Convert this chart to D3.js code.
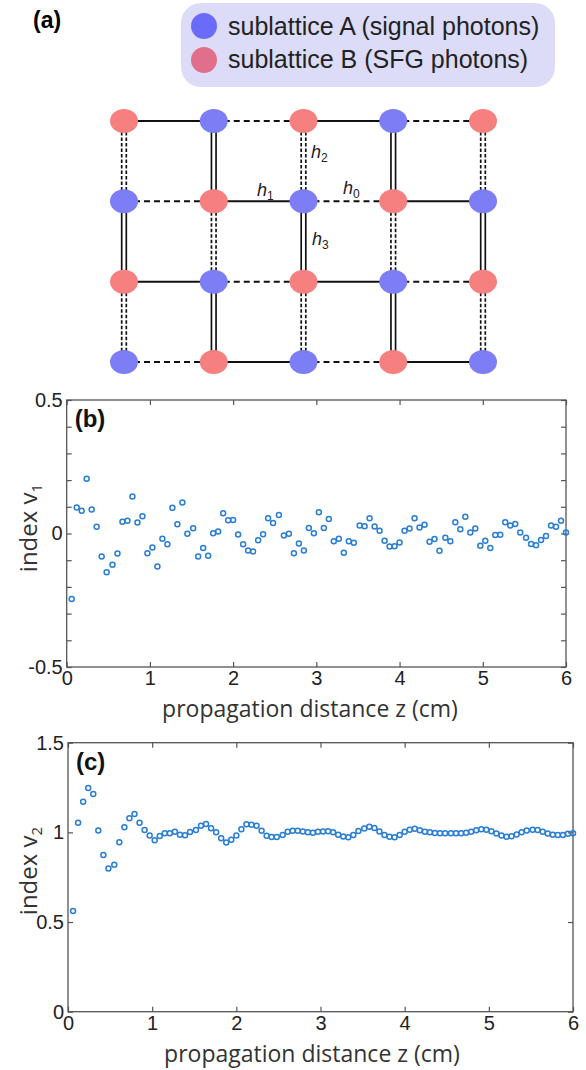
<!DOCTYPE html>
<html>
<head>
<meta charset="utf-8">
<script src="https://cdn.jsdelivr.net/npm/d3@7"></script>
<style>
  body { margin: 0; background: #fff; }
  svg { display: block; }
</style>
</head>
<body>
<svg id="fig" width="586" height="1070"></svg>
<script>
// propagation distance z (cm) of each sample
var zGrid = [0.06,0.12,0.18,0.24,0.30,0.36,0.42,0.48,0.55,0.61,0.67,0.73,0.79,0.85,0.91,0.97,
  1.03,1.09,1.15,1.21,1.27,1.33,1.39,1.45,1.52,1.58,1.64,1.70,1.76,1.82,1.88,1.94,
  2.00,2.06,2.12,2.18,2.24,2.30,2.36,2.42,2.48,2.55,2.61,2.67,2.73,2.79,2.85,2.91,2.97,
  3.03,3.09,3.15,3.21,3.27,3.33,3.39,3.45,3.52,3.58,3.64,3.70,3.76,3.82,3.88,3.94,
  4.00,4.06,4.12,4.18,4.24,4.30,4.36,4.42,4.48,4.55,4.61,4.67,4.73,4.79,4.85,4.91,4.97,
  5.03,5.09,5.15,5.21,5.27,5.33,5.39,5.45,5.52,5.58,5.64,5.70,5.76,5.82,5.88,5.94,6.00];

// index v1, panel (b)
var v1 = [-0.245,0.0975,0.085,0.205,0.09,0.025,-0.086,-0.145,-0.117,-0.075,
  0.044,0.0475,0.139,0.041,0.065,-0.074,-0.0525,-0.124,-0.02,-0.04,
  0.096,0.035,0.116,-0.001,0.02,-0.086,-0.054,-0.083,0.001,0.0075,
  0.076,0.05,0.051,-0.004,-0.04,-0.064,-0.0675,-0.025,-0.0025,0.0575,
  0.039,0.069,-0.0075,-0.001,-0.074,-0.0375,-0.064,0.021,0.001,0.08,
  0.021,0.054,-0.029,-0.02,-0.0725,-0.029,-0.035,0.03,0.0275,0.0575,
  0.026,0.01,-0.0275,-0.049,-0.0475,-0.034,0.01,0.019,0.0575,0.0225,
  0.0325,-0.031,-0.021,-0.065,-0.016,-0.029,0.0425,0.016,0.0625,0.004,
  0.019,-0.046,-0.0275,-0.054,-0.006,-0.005,0.0425,0.03,0.036,0.004,
  -0.016,-0.039,-0.044,-0.024,-0.009,0.03,0.025,0.0475,0.004];

// index v2, panel (c)
var v2 = [0.561,1.054,1.171,1.248,1.214,1.010,0.874,0.798,0.820,0.945,
  1.028,1.079,1.103,1.054,1.013,0.982,0.956,0.980,0.995,0.995,
  1.004,0.987,0.984,1.002,1.013,1.037,1.047,1.023,1.001,0.967,
  0.944,0.959,0.982,1.017,1.045,1.043,1.037,1.009,0.981,0.974,
  0.974,0.985,1.004,1.009,1.009,1.005,1.0,0.998,1.003,1.005,
  1.006,1.0,0.987,0.977,0.973,0.985,1.008,1.022,1.032,1.025,
  1.005,0.985,0.975,0.973,0.985,1.003,1.015,1.02,1.012,1.004,
  1.0,0.996,0.995,0.995,0.995,0.995,0.995,0.998,1.004,1.012,
  1.017,1.015,1.006,0.993,0.982,0.976,0.978,0.988,1.0,1.01,
  1.015,1.013,1.004,0.993,0.987,0.985,0.986,0.992,0.995];

var xTicks = [0, 1, 2, 3, 4, 5, 6];
var bTicks = [-0.5, -0.4, -0.3, -0.2, -0.1, 0, 0.1, 0.2, 0.3, 0.4, 0.5];
var bLabels = [-0.5, 0, 0.5];
var cTicks = [0, 0.5, 1, 1.5];
var cLabels = [0, 0.5, 1, 1.5];

var legendLabels = ["sublattice A (signal photons)", "sublattice B (SFG photons)"];
var legendColors = ["#6b6bfa", "#df6f8b"];
var nodeColors = { A: "#7d7df6", B: "#f67f7f" };
var nCols = 5, nRows = 4;

var svg = d3.select("#fig");
var tickFont = "'Liberation Sans', Arial, sans-serif";
var titleFont = "'Open Sans', sans-serif";
var markColor = "#2a7ed3";

// ---------- (a) legend + lattice ----------
svg.append("text").attr("x", 33).attr("y", 28)
  .attr("font-family", tickFont).attr("font-weight", "bold").attr("font-size", 23)
  .text("(a)");

svg.append("rect").attr("x", 181).attr("y", 3).attr("width", 374).attr("height", 84)
  .attr("rx", 20).attr("fill", "#dcdcf8");

legendLabels.forEach(function(lab, i) {
  svg.append("circle").attr("cx", 204).attr("cy", 26 + i * 34).attr("r", 13)
    .attr("fill", legendColors[i]);
  svg.append("text").attr("x", 228).attr("y", 35 + i * 33)
    .attr("font-family", tickFont).attr("font-size", 25).attr("fill", "#222")
    .text(lab);
});

var lx = d3.scaleLinear().domain([0, nCols - 1]).range([124, 483]);
var ly = d3.scaleLinear().domain([0, nRows - 1]).range([121, 362]);

var lat = svg.append("g");
// horizontal bonds: solid (h1) when left node is B, dashed (h0) otherwise
d3.range(nRows).forEach(function(r) {
  d3.range(nCols - 1).forEach(function(c) {
    var solid = (r + c) % 2 === 0;
    lat.append("line")
      .attr("x1", lx(c)).attr("x2", lx(c + 1)).attr("y1", ly(r)).attr("y2", ly(r))
      .attr("stroke", "#111").attr("stroke-width", 2)
      .attr("stroke-dasharray", solid ? null : "6,4");
  });
});
// vertical bonds: double dashed (h2) under B, double solid (h3) under A
d3.range(nCols).forEach(function(c) {
  d3.range(nRows - 1).forEach(function(r) {
    var dashed = (r + c) % 2 === 0;
    [-2.3, 2.3].forEach(function(off) {
      lat.append("line")
        .attr("x1", lx(c) + off).attr("x2", lx(c) + off)
        .attr("y1", ly(r)).attr("y2", ly(r + 1))
        .attr("stroke", "#111").attr("stroke-width", 1.7)
        .attr("stroke-dasharray", dashed ? "3.5,2" : null);
    });
  });
});
d3.range(nRows).forEach(function(r) {
  d3.range(nCols).forEach(function(c) {
    lat.append("ellipse").attr("cx", lx(c)).attr("cy", ly(r)).attr("rx", 14).attr("ry", 12)
      .attr("fill", (r + c) % 2 === 0 ? nodeColors.B : nodeColors.A);
  });
});

function hLabel(x, y, sub) {
  var t = svg.append("text").attr("x", x).attr("y", y)
    .attr("font-family", tickFont).attr("font-size", 18).attr("fill", "#222");
  t.append("tspan").attr("font-style", "italic").text("h");
  t.append("tspan").attr("font-size", 12).attr("dy", 4).text(sub);
}
hLabel(257, 196, "1");
hLabel(311, 158, "2");
hLabel(343, 194, "0");
hLabel(312, 245, "3");

// ---------- panels (b) and (c) ----------
function panel(cfg) {
  var x = d3.scaleLinear().domain([0, 6]).range([cfg.left, cfg.right]);
  var y = d3.scaleLinear().domain(cfg.yDomain).range([cfg.bottom, cfg.top]);
  var g = svg.append("g");

  g.append("g").attr("transform", "translate(0," + cfg.bottom + ")")
    .call(d3.axisBottom(x).tickValues(xTicks).tickSize(-5).tickPadding(4).tickFormat(d3.format("d")));
  g.append("g").attr("transform", "translate(0," + cfg.top + ")")
    .call(d3.axisTop(x).tickValues(xTicks).tickSize(-5).tickFormat(""));
  g.append("g").attr("transform", "translate(" + cfg.left + ",0)")
    .call(d3.axisLeft(y).tickValues(cfg.ticks).tickSize(-5).tickPadding(4)
      .tickFormat(function(v) { return cfg.labels.indexOf(v) >= 0 ? String(v) : ""; }));
  g.append("g").attr("transform", "translate(" + cfg.right + ",0)")
    .call(d3.axisRight(y).tickValues(cfg.ticks).tickSize(-5).tickFormat(""));

  g.selectAll(".domain").remove();
  g.selectAll(".tick line").attr("stroke", "#555").attr("stroke-width", 1.2);
  g.selectAll(".tick text").attr("font-family", tickFont).attr("font-size", 20).attr("fill", "#222");

  g.append("rect").attr("x", cfg.left).attr("y", cfg.top)
    .attr("width", cfg.right - cfg.left).attr("height", cfg.bottom - cfg.top)
    .attr("fill", "none").attr("stroke", "#555").attr("stroke-width", 1.3);

  g.append("g").selectAll("circle").data(cfg.values).join("circle")
    .attr("cx", function(d, i) { return x(zGrid[i]); })
    .attr("cy", function(d) { return y(d); })
    .attr("r", 2.5).attr("fill", "none").attr("stroke", markColor).attr("stroke-width", 1.5);

  g.append("text").attr("x", cfg.left + 8).attr("y", cfg.top + 27)
    .attr("font-family", tickFont).attr("font-weight", "bold").attr("font-size", 24)
    .attr("fill", "#111").text(cfg.tag);

  g.append("text").attr("x", cfg.titleX).attr("y", cfg.titleY).attr("text-anchor", "middle")
    .attr("font-family", titleFont).attr("font-size", 23).attr("fill", "#333")
    .text("propagation distance z (cm)");

  var yt = g.append("text")
    .attr("transform", "translate(37," + cfg.yTitleY + ") rotate(-90)")
    .attr("text-anchor", "middle").attr("font-family", titleFont).attr("font-size", 24).attr("fill", "#333");
  yt.append("tspan").text("index v");
  yt.append("tspan").attr("font-size", 15).attr("dy", 5).text(cfg.sub);
}

panel({ left: 66.7, right: 566, top: 400, bottom: 667, yDomain: [-0.5, 0.5],
  ticks: bTicks, labels: bLabels, values: v1, tag: "(b)", sub: "1",
  titleX: 310, titleY: 717, yTitleY: 528 });

panel({ left: 68, right: 573, top: 742.7, bottom: 1011.7, yDomain: [0, 1.5],
  ticks: cTicks, labels: cLabels, values: v2, tag: "(c)", sub: "2",
  titleX: 312, titleY: 1062, yTitleY: 871 });
</script>
</body>
</html>
